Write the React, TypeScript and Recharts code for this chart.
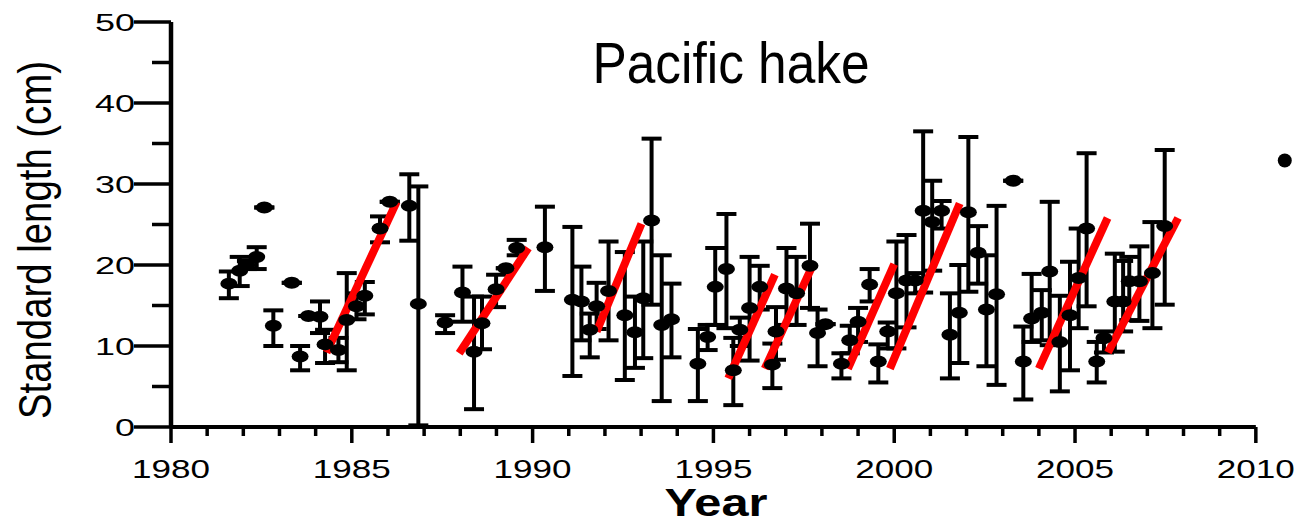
import React from 'react';
import { ComposedChart, Scatter, Line, XAxis, YAxis, ErrorBar, ReferenceLine } from 'recharts';

// Sampling year (decimal) for each mean length
const years = [
  1981.6, 1981.9, 1982.1, 1982.37, 1982.58, 1982.83, 1983.34, 1983.57, 1983.8, 1984.12,
  1984.26, 1984.63, 1984.86, 1985.13, 1985.36, 1985.78, 1986.05, 1986.59, 1986.84, 1987.58,
  1988.06, 1988.38, 1988.6, 1988.99, 1989.26, 1989.56, 1990.34, 1991.1, 1991.35, 1991.58,
  1991.77, 1992.1, 1992.55, 1992.83, 1993.06, 1993.29, 1993.57, 1993.84, 1994.57, 1994.84,
  1995.05, 1995.36, 1995.55, 1995.73, 1996.0, 1996.28, 1996.63, 1996.73, 1997.02, 1997.3,
  1997.67, 1997.88, 1998.1, 1998.54, 1998.77, 1999.0, 1999.32, 1999.56, 1999.82, 2000.06,
  2000.34, 2000.58, 2000.8, 2001.05, 2001.31, 2001.54, 2001.8, 2002.05, 2002.32, 2002.55,
  2002.83, 2003.29, 2003.57, 2003.8, 2004.08, 2004.3, 2004.58, 2004.86, 2005.1, 2005.32,
  2005.6, 2005.8, 2006.1, 2006.33, 2006.5, 2006.78, 2007.14, 2007.48,
];
// Mean standard length (cm)
const meanLength = [
  17.7, 19.3, 20.0, 21.0, 27.1, 12.5, 17.8, 8.7, 13.7, 13.6,
  10.2, 9.5, 13.2, 14.9, 16.2, 24.5, 27.8, 27.3, 15.2, 12.9,
  16.6, 9.3, 12.8, 17.0, 19.6, 22.1, 22.2, 15.7, 15.5, 12.0,
  14.9, 16.8, 13.8, 11.7, 15.9, 25.5, 12.6, 13.3, 7.8, 11.1,
  17.3, 19.5, 7.0, 12.0, 14.7, 17.3, 7.7, 11.8, 17.1, 16.5,
  19.9, 11.6, 12.7, 7.8, 10.7, 13.0, 17.6, 8.1, 11.8, 16.5,
  18.1, 18.1, 26.7, 25.3, 26.7, 11.4, 14.1, 26.5, 21.5, 14.5,
  16.4, 30.4, 8.1, 13.4, 14.1, 19.2, 10.5, 13.8, 18.4, 24.5,
  8.1, 11.0, 15.5, 15.5, 18.0, 18.0, 19.0, 24.8,
];
// Lower end of error bar (cm)
const lowerBound = [
  15.9, 17.4, 19.5, 19.5, 27.1, 10.0, 17.8, 7.0, 13.7, 11.6,
  7.9, 8.0, 7.0, 13.3, 13.9, 22.8, 27.8, 23.0, 0.2, 11.6,
  13.0, 2.2, 9.6, 14.8, 19.6, 21.2, 16.8, 6.3, 10.7, 8.6,
  12.1, 10.7, 5.8, 7.3, 8.5, 15.1, 3.2, 8.6, 3.2, 9.5,
  12.6, 12.2, 2.7, 10.0, 8.2, 14.5, 4.8, 8.3, 12.6, 12.6,
  14.7, 7.5, 12.7, 6.0, 9.1, 10.5, 15.5, 5.5, 9.7, 9.7,
  12.3, 16.5, 16.6, 19.3, 24.5, 6.0, 7.9, 16.7, 17.7, 7.5,
  5.2, 30.4, 3.4, 10.5, 10.7, 10.1, 4.4, 7.0, 12.2, 14.9,
  5.5, 9.2, 9.3, 11.8, 13.2, 13.1, 12.2, 15.1,
];
// Upper end of error bar (cm)
const upperBound = [
  19.2, 21.0, 20.5, 22.2, 27.1, 14.4, 17.8, 10.0, 13.7, 15.5,
  12.0, 11.0, 19.0, 16.5, 17.9, 26.0, 27.8, 31.2, 29.7, 13.8,
  19.8, 16.1, 16.1, 18.8, 19.6, 23.1, 27.2, 24.7, 19.8, 14.0,
  17.8, 22.9, 21.6, 16.1, 22.9, 35.6, 21.2, 17.7, 12.1, 12.6,
  22.1, 26.3, 11.0, 13.5, 21.0, 19.9, 10.3, 14.8, 22.1, 21.0,
  25.1, 14.5, 12.7, 9.1, 12.5, 14.7, 19.5, 10.2, 12.9, 22.9,
  23.7, 19.0, 36.5, 30.4, 27.9, 16.5, 20.0, 35.8, 24.8, 21.2,
  27.3, 30.4, 12.4, 18.9, 16.9, 27.8, 16.2, 20.4, 24.5, 33.8,
  10.5, 11.8, 21.4, 20.5, 21.0, 22.3, 25.3, 34.2,
];

// Lone point to the right of the axis
const extraYears = [2010.8];
const extraLength = [32.9];

// Red growth-trajectory segments
const growthStartYear = [1984.3, 1987.97, 1991.77, 1995.41, 1996.42, 1998.72, 1999.88, 2004.0, 2005.91];
const growthStartLen = [9.2, 9.1, 11.8, 6.0, 7.2, 7.2, 7.2, 7.2, 9.2];
const growthEndYear = [1986.24, 1989.88, 1993.01, 1996.7, 1997.76, 2000.0, 2001.81, 2005.9, 2007.85];
const growthEndLen = [27.8, 22.1, 25.1, 18.8, 20.1, 20.1, 27.6, 25.8, 25.8];

const xTicks = Array.from({ length: 31 }, (_, i) => 1980 + i);
const yTicks = [0, 5, 10, 15, 20, 25, 30, 35, 40, 45, 50];

const points = years.map((x, i) => ({
  x,
  y: meanLength[i],
  err: [meanLength[i] - lowerBound[i], upperBound[i] - meanLength[i]],
}));
const extraPoints = extraYears.map((x, i) => ({ x, y: extraLength[i] }));
const segments = growthStartYear.map((x, i) => [
  { x, y: growthStartLen[i] },
  { x: growthEndYear[i], y: growthEndLen[i] },
]);

const FONT = '"Liberation Sans", Arial, sans-serif';
const NARROW = '"Liberation Sans Narrow", "Liberation Sans", Arial, sans-serif';

const XTick = (props: any) => {
  const { x, y, payload } = props;
  const major = payload.value % 5 === 0;
  return (
    <g>
      <line x1={x} x2={x} y1={y} y2={y + (major ? 16 : 9)} stroke="#000" strokeWidth={3.5} />
      {major && (
        <text
          x={x}
          y={y + 51}
          textAnchor="middle"
          fontFamily={FONT}
          fontSize={25}
          textLength={78}
          lengthAdjust="spacingAndGlyphs"
          fill="#000"
        >
          {payload.value}
        </text>
      )}
    </g>
  );
};

const YTick = (props: any) => {
  const { x, y, payload } = props;
  const major = payload.value % 10 === 0;
  const label = String(payload.value);
  return (
    <g>
      <line x1={x - (major ? 37 : 19)} x2={x} y1={y} y2={y} stroke="#000" strokeWidth={3.5} />
      {major && (
        <text
          x={x - 36}
          y={y + 8.5}
          textAnchor="end"
          fontFamily={FONT}
          fontSize={24}
          textLength={label.length * 20}
          lengthAdjust="spacingAndGlyphs"
          fill="#000"
        >
          {label}
        </text>
      )}
    </g>
  );
};

const Dot = (props: any) => {
  const { cx, cy } = props;
  if (cx == null || cy == null) return <g />;
  return <ellipse cx={cx} cy={cy} rx={8.5} ry={6} fill="#000" />;
};

const Round = (props: any) => {
  const { cx, cy } = props;
  if (cx == null || cy == null) return <g />;
  return <circle cx={cx} cy={cy} r={7} fill="#000" />;
};

export default function App() {
  return (
    <div style={{ position: 'absolute', left: 0, top: 0, width: 1303, height: 520, background: '#fff' }}>
      <ComposedChart
        width={1303}
        height={520}
        margin={{ top: 22, right: 11, bottom: 0, left: 0 }}
      >
        <XAxis
          type="number"
          dataKey="x"
          domain={[1980, 2011]}
          ticks={xTicks}
          interval={0}
          height={93}
          axisLine={false}
          tickLine={false}
          tickSize={0}
          tickMargin={0}
          tick={<XTick />}
        />
        <YAxis
          type="number"
          dataKey="y"
          domain={[0, 50]}
          ticks={yTicks}
          interval={0}
          width={171}
          axisLine={{ stroke: '#000', strokeWidth: 4.5 }}
          tickLine={false}
          tickSize={0}
          tickMargin={0}
          tick={<YTick />}
        />
        <ReferenceLine
          segment={[{ x: 1980, y: 0 }, { x: 2010, y: 0 }]}
          stroke="#000"
          strokeWidth={4}
        />
        <Scatter data={points} dataKey="y" shape={<Dot />} isAnimationActive={false}>
          <ErrorBar dataKey="err" direction="y" width={10} stroke="#000" strokeWidth={4} isAnimationActive={false} />
        </Scatter>
        <Scatter data={extraPoints} dataKey="y" shape={<Round />} isAnimationActive={false} />
        {segments.map((seg, i) => (
          <Line
            key={i}
            data={seg}
            dataKey="y"
            stroke="#ff0000"
            strokeWidth={8}
            dot={false}
            activeDot={false}
            isAnimationActive={false}
            strokeLinecap="butt"
          />
        ))}
      </ComposedChart>
      <svg
        width={1303}
        height={520}
        style={{ position: 'absolute', left: 0, top: 0, pointerEvents: 'none' }}
      >
        <text
          x={731}
          y={83}
          textAnchor="middle"
          fontFamily={NARROW}
          fontSize={57}
          textLength={277}
          lengthAdjust="spacingAndGlyphs"
          fill="#000"
        >
          Pacific hake
        </text>
        <text
          x={716}
          y={516}
          textAnchor="middle"
          fontFamily={FONT}
          fontWeight="bold"
          fontSize={38}
          textLength={103}
          lengthAdjust="spacingAndGlyphs"
          fill="#000"
        >
          Year
        </text>
        <text
          transform="translate(51,240) rotate(-90)"
          textAnchor="middle"
          fontFamily={NARROW}
          fontSize={46}
          textLength={358}
          lengthAdjust="spacingAndGlyphs"
          fill="#000"
        >
          Standard length (cm)
        </text>
      </svg>
    </div>
  );
}
